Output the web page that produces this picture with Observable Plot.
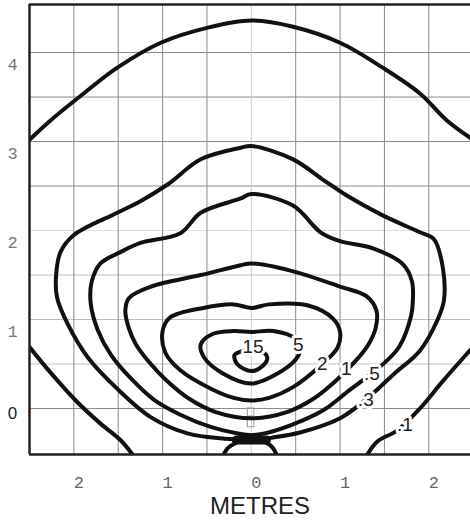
<!DOCTYPE html>
<html><head><meta charset="utf-8">
<script src="https://cdn.jsdelivr.net/npm/d3@7"></script>
<script src="https://cdn.jsdelivr.net/npm/@observablehq/plot@0.6"></script>
<style>body{margin:0;background:#fff}</style>
</head><body><div id="chart"></div>
<script>
// axis ticks / grid
const xTicks = [-2, -1, 0, 1, 2];
const yTicksUpper = [1, 2, 3, 4];
const yTickZero = [0];
const gridX = [-2, -1.5, -1, -0.5, 0.5, 1, 1.5, 2];
const gridXCenter = [0];
const gridYDark = [0, 2.5, 3, 3.5, 4];
const gridYLight = [0.5, 1, 1.5];
const gridYFaint = [2];

// isolux contours (metres)
const lux01Top = [[-2.5,3.02],[-2.26,3.24],[-1.89,3.54],[-1.51,3.83],[-1.02,4.11],[-0.49,4.28],[0,4.36],[0.47,4.29],[1.0,4.11],[1.48,3.83],[1.9,3.54],[2.2,3.24],[2.47,3.04]];
const lux01Left = [[-2.5,0.69],[-2.26,0.40],[-1.96,0.07],[-1.70,-0.17],[-1.47,-0.36],[-1.33,-0.53]];
const lux01Right = [[1.30,-0.53],[1.42,-0.37],[1.64,-0.25],[1.90,0.0],[2.16,0.31],[2.47,0.66]];
const lux03 = [[-0.07,-0.35],[-0.30,-0.34],[-0.72,-0.28],[-1.13,-0.10],[-1.51,0.22],[-1.84,0.57],[-2.07,0.95],[-2.19,1.25],[-2.20,1.50],[-2.15,1.76],[-2.0,1.95],[-1.51,2.20],[-1.25,2.33],[-0.94,2.52],[-0.57,2.80],[-0.12,2.93],[0,2.95],[0.47,2.80],[0.81,2.57],[1.08,2.39],[1.48,2.17],[1.90,1.98],[2.06,1.90],[2.16,1.57],[2.17,1.21],[2.10,1.00],[1.90,0.65],[1.62,0.40],[1.29,0.10],[1.0,-0.11],[0.55,-0.27],[0.22,-0.33],[0.07,-0.35]];
const lux03LegLeft = [[-0.07,-0.35],[-0.18,-0.39],[-0.26,-0.44],[-0.32,-0.53]];
const lux03LegRight = [[0.07,-0.35],[0.18,-0.39],[0.24,-0.44],[0.29,-0.53]];
const lux05 = [[0,-0.30],[-0.15,-0.28],[-0.45,-0.21],[-0.80,-0.07],[-1.10,0.10],[-1.36,0.34],[-1.58,0.60],[-1.73,0.88],[-1.81,1.18],[-1.80,1.42],[-1.70,1.63],[-1.47,1.76],[-1.25,1.86],[-0.80,1.97],[-0.57,2.20],[-0.12,2.36],[0,2.41],[0.47,2.28],[0.78,1.98],[1.0,1.88],[1.37,1.80],[1.71,1.62],[1.81,1.43],[1.82,1.20],[1.80,1.04],[1.67,0.70],[1.53,0.54],[1.34,0.38],[1.11,0.21],[0.81,-0.02],[0.44,-0.19],[0.15,-0.28],[0,-0.30]];
const lux1 = [[0,-0.11],[-0.40,-0.04],[-0.70,0.11],[-0.95,0.31],[-1.15,0.52],[-1.30,0.72],[-1.38,0.90],[-1.42,1.10],[-1.38,1.24],[-1.13,1.37],[-0.57,1.50],[-0.12,1.61],[0,1.63],[0.44,1.55],[1.0,1.37],[1.30,1.26],[1.41,1.10],[1.40,0.90],[1.32,0.72],[1.18,0.54],[0.95,0.31],[0.70,0.11],[0.40,-0.04]];
const lux2 = [[0,0.09],[-0.2,0.12],[-0.45,0.22],[-0.80,0.43],[-0.97,0.63],[-1.0,0.87],[-0.92,1.02],[-0.54,1.13],[-0.2,1.17],[0,1.13],[0.2,1.17],[0.63,1.16],[0.92,1.01],[1.0,0.86],[0.97,0.68],[0.80,0.50],[0.47,0.24],[0.2,0.12]];
const lux5 = [[0,0.28],[-0.33,0.40],[-0.53,0.57],[-0.57,0.72],[-0.43,0.84],[-0.2,0.87],[0,0.86],[0.25,0.87],[0.50,0.78],[0.55,0.66],[0.50,0.55],[0.29,0.39]];
const lux15 = [[0,0.42],[0.13,0.48],[0.18,0.57],[0.12,0.64],[0,0.66],[-0.12,0.64],[-0.19,0.60],[-0.16,0.50]];

const contourLabels = [
  {t:"15", x:0.02, y:0.69}, {t:"5", x:0.53, y:0.71}, {t:"2", x:0.80, y:0.505},
  {t:"1", x:1.07, y:0.45}, {t:".5", x:1.36, y:0.39}, {t:".3", x:1.29, y:0.10}, {t:".1", x:1.73, y:-0.19}
];

// luminaire and mast symbol
const luminaire = [[-0.17,-0.355],[0.17,-0.355]];
const mastBoxes = [[-0.09,0],[-0.21,-0.12]];
const mastX = [-0.04, 0.035];

const X0 = -2.5, X1 = 2.47, Y0 = -0.517, Y1 = 4.54;
const xy = {x: d => d[0], y: d => d[1]};
const ink = {stroke: "#111", strokeWidth: 4, strokeLinejoin: "round", strokeLinecap: "round", clip: true};
const open = {...xy, ...ink, curve: "catmull-rom"};
const closed = {...xy, ...ink, curve: "catmull-rom-closed"};

const chart = Plot.plot({
  width: 470, height: 520,
  marginLeft: 29, marginRight: 0, marginTop: 4, marginBottom: 66,
  x: {domain: [X0, X1], axis: null},
  y: {domain: [Y0, Y1], axis: null},
  style: {fontFamily: "Liberation Sans, Arial, sans-serif", background: "white"},
  marks: [
    Plot.ruleY(gridYFaint, {stroke: "#dedede", strokeWidth: 1}),
    Plot.ruleY(gridYLight, {stroke: "#bdbdbd", strokeWidth: 1}),
    Plot.ruleY(gridYDark, {stroke: "#8a8a8a", strokeWidth: 1}),
    Plot.ruleX(gridX, {stroke: "#8a8a8a", strokeWidth: 1}),
    Plot.ruleX(gridXCenter, {stroke: "#cfcfcf", strokeWidth: 1}),
    Plot.rect(mastBoxes, {x1: () => mastX[0], x2: () => mastX[1], y1: d => d[0], y2: d => d[1], fill: "none", stroke: "#9a9a9a", strokeWidth: 1}),
    Plot.line(lux01Top, open),
    Plot.line(lux01Left, open),
    Plot.line(lux01Right, open),
    Plot.line(lux03, open),
    Plot.line(lux03LegLeft, open),
    Plot.line(lux03LegRight, open),
    Plot.line(lux05, open),
    Plot.line(lux1, closed),
    Plot.line(lux2, closed),
    Plot.line(lux5, closed),
    Plot.line(lux15, closed),
    Plot.line(luminaire, {...xy, stroke: "#111", strokeWidth: 9, strokeLinecap: "round"}),
    Plot.text(contourLabels, {x: "x", y: "y", text: "t", fontSize: 19, fill: "#222",
      stroke: "white", strokeWidth: 6, strokeLinejoin: "round", paintOrder: "stroke"}),
    Plot.ruleX([X0], {stroke: "#222", strokeWidth: 2.5}),
    Plot.ruleY([Y0], {stroke: "#222", strokeWidth: 2.5}),
    Plot.ruleY([Y1], {stroke: "#222", strokeWidth: 2.5}),
    Plot.text(xTicks, {x: d => d, text: d => String(Math.abs(d)), frameAnchor: "bottom", dy: 33, dx: 5,
      fontFamily: "Liberation Mono, monospace", fontSize: 17, fill: "#666"}),
    Plot.text(yTicksUpper, {y: d => d, text: d => String(d), frameAnchor: "left", dx: -17, dy: 12,
      textAnchor: "middle", fontFamily: "Liberation Mono, monospace", fontSize: 17, fill: "#777"}),
    Plot.text(yTickZero, {y: d => d, text: d => String(d), frameAnchor: "left", dx: -17, dy: 5,
      textAnchor: "middle", fontSize: 17, fill: "#222"}),
    Plot.text(["METRES"], {text: d => d, frameAnchor: "bottom", lineAnchor: "bottom", dx: 10, dy: 59,
      fontSize: 24, fill: "#222"})
  ]
});
document.getElementById("chart").appendChild(chart);
</script>
</body></html>
